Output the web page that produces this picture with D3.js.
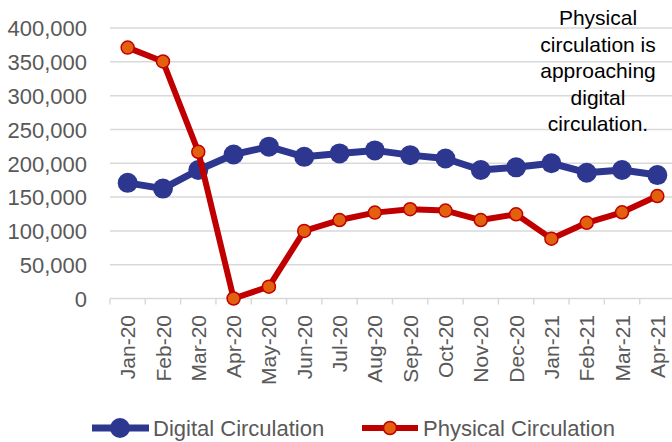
<!DOCTYPE html>
<html>
<head>
<meta charset="utf-8">
<script src="https://cdnjs.cloudflare.com/ajax/libs/d3/7.8.5/d3.min.js"></script>
<style>
  body { margin: 0; background: #fff; }
  svg { display: block; font-family: "Liberation Sans", Arial, sans-serif; }
</style>
</head>
<body>
<div id="chart"></div>
<script>
// months on the x axis
var months = ["Jan-20", "Feb-20", "Mar-20", "Apr-20", "May-20", "Jun-20", "Jul-20", "Aug-20",
  "Sep-20", "Oct-20", "Nov-20", "Dec-20", "Jan-21", "Feb-21", "Mar-21", "Apr-21"];

// circulation values
var digital = [171000, 162500, 190000, 213000, 224500, 209500, 214500, 219000,
  212000, 207000, 190000, 194000, 200000, 186000, 190000, 182500];
var physical = [371000, 350500, 217000, 0, 17500, 100000, 116000, 127000,
  132000, 130000, 116000, 124500, 88500, 112000, 127500, 151500];

var yTicks = [0, 50000, 100000, 150000, 200000, 250000, 300000, 350000, 400000];
var note = ["Physical", "circulation is", "approaching", "digital", "circulation."];

var width = 672, height = 442;

var svg = d3.select("#chart")
  .append("svg")
    .attr("width", width)
    .attr("height", height);

// scales
var x = d3.scaleBand()
  .domain(months)
  .range([110, 675]);

var y = d3.scaleLinear()
  .domain([0, 400000])
  .range([298.5, 28]);

// horizontal gridlines
svg.append("g")
  .selectAll("line")
  .data(yTicks.slice(1))
  .enter().append("line")
    .attr("x1", 110)
    .attr("x2", width)
    .attr("y1", function(d) { return y(d); })
    .attr("y2", function(d) { return y(d); })
    .attr("stroke", "#d9d9d9")
    .attr("stroke-width", 1.5);

// y axis labels
var yAxis = d3.axisLeft(y)
  .tickValues(yTicks)
  .tickFormat(d3.format(","))
  .tickSize(0)
  .tickPadding(0);

var gy = svg.append("g")
  .attr("transform", "translate(87,0)")
  .call(yAxis);
gy.select(".domain").remove();
gy.selectAll("text")
  .attr("fill", "#595959")
  .style("font-size", "22px")
  .attr("dy", "0.36em");

// x axis with ticks between the months
var xAxis = d3.axisBottom(x).tickSize(0).tickFormat("");
var gx = svg.append("g")
  .attr("transform", "translate(0," + y(0) + ")")
  .call(xAxis);
gx.select(".domain")
  .attr("stroke", "#d9d9d9")
  .attr("stroke-width", 1.5)
  .attr("d", "M110,0H" + width);

gx.selectAll(".sep")
  .data(months)
  .enter().append("line")
    .attr("class", "sep")
    .attr("x1", function(d) { return x(d); })
    .attr("x2", function(d) { return x(d); })
    .attr("y1", 0)
    .attr("y2", 6)
    .attr("stroke", "#d9d9d9")
    .attr("stroke-width", 1.5);

// rotated month labels
svg.append("g")
  .selectAll("text")
  .data(months)
  .enter().append("text")
    .attr("transform", function(d) {
      return "translate(" + (x(d) + x.bandwidth() / 2) + ",315) rotate(-90)";
    })
    .attr("dy", "0.36em")
    .attr("text-anchor", "end")
    .attr("fill", "#595959")
    .style("font-size", "21px")
    .text(function(d) { return d; });

// line generator
var line = d3.line()
  .x(function(d, i) { return x(months[i]) + x.bandwidth() / 2; })
  .y(function(d) { return y(d); });

// digital series
svg.append("path")
  .datum(digital)
  .attr("fill", "none")
  .attr("stroke", "#2e3790")
  .attr("stroke-width", 7)
  .attr("stroke-linejoin", "round")
  .attr("d", line);

svg.append("g")
  .selectAll("circle")
  .data(digital)
  .enter().append("circle")
    .attr("cx", function(d, i) { return x(months[i]) + x.bandwidth() / 2; })
    .attr("cy", function(d) { return y(d); })
    .attr("r", 10)
    .attr("fill", "#2e3790");

// physical series
svg.append("path")
  .datum(physical)
  .attr("fill", "none")
  .attr("stroke", "#c00000")
  .attr("stroke-width", 6)
  .attr("stroke-linejoin", "round")
  .attr("d", line);

svg.append("g")
  .selectAll("circle")
  .data(physical)
  .enter().append("circle")
    .attr("cx", function(d, i) { return x(months[i]) + x.bandwidth() / 2; })
    .attr("cy", function(d) { return y(d); })
    .attr("r", 6.5)
    .attr("fill", "#e2600e")
    .attr("stroke", "#c00000")
    .attr("stroke-width", 1.5);

// annotation
svg.append("text")
  .attr("text-anchor", "middle")
  .attr("fill", "#000")
  .style("font-size", "21px")
  .selectAll("tspan")
  .data(note)
  .enter().append("tspan")
    .attr("x", 598)
    .attr("y", function(d, i) { return 25 + i * 26.5; })
    .text(function(d) { return d; });

// legend
var legend = svg.append("g");

legend.append("line")
  .attr("x1", 92).attr("x2", 149)
  .attr("y1", 428).attr("y2", 428)
  .attr("stroke", "#2e3790")
  .attr("stroke-width", 7);
legend.append("circle")
  .attr("cx", 120).attr("cy", 428)
  .attr("r", 10)
  .attr("fill", "#2e3790");
legend.append("text")
  .attr("x", 153).attr("y", 428)
  .attr("dy", "0.36em")
  .attr("fill", "#595959")
  .style("font-size", "22px")
  .text("Digital Circulation");

legend.append("line")
  .attr("x1", 362).attr("x2", 418)
  .attr("y1", 428).attr("y2", 428)
  .attr("stroke", "#c00000")
  .attr("stroke-width", 6);
legend.append("circle")
  .attr("cx", 390).attr("cy", 428)
  .attr("r", 6.5)
  .attr("fill", "#e2600e")
  .attr("stroke", "#c00000")
  .attr("stroke-width", 1.5);
legend.append("text")
  .attr("x", 423).attr("y", 428)
  .attr("dy", "0.36em")
  .attr("fill", "#595959")
  .style("font-size", "22px")
  .text("Physical Circulation");
</script>
</body>
</html>
